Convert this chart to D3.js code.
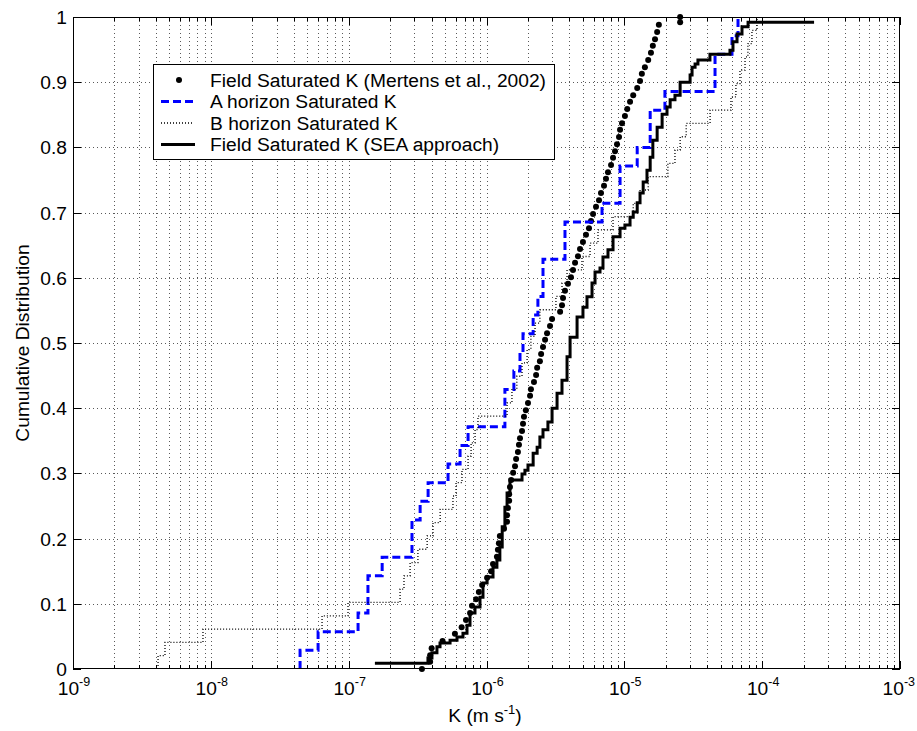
<!DOCTYPE html>
<html><head><meta charset="utf-8">
<script src="https://cdn.jsdelivr.net/npm/d3@7"></script>
<style>
body{margin:0;background:#fff}
svg{display:block}
text{font-family:"Liberation Sans",Arial,Helvetica,sans-serif;fill:#000}
</style>
</head><body>
<svg id="chart" width="917" height="731"></svg>
<script>
// ---------------- data ----------------
const mertensK = [3.4e-7, 3.9e-7, 3.9e-7, 4.0e-7, 4.8e-7, 5.9e-7, 6.6e-7, 7.1e-7, 7.6e-7, 7.85e-7,
 8.4e-7, 8.8e-7, 9.3e-7, 1.01e-6, 1.08e-6, 1.115e-6, 1.19e-6, 1.21e-6, 1.23e-6, 1.25e-6,
 1.34e-6, 1.41e-6, 1.41e-6, 1.43e-6, 1.46e-6, 1.46e-6, 1.48e-6, 1.51e-6, 1.56e-6, 1.61e-6,
 1.64e-6, 1.69e-6, 1.72e-6, 1.75e-6, 1.81e-6, 1.84e-6, 1.87e-6, 1.93e-6, 2.00e-6, 2.07e-6,
 2.10e-6, 2.21e-6, 2.29e-6, 2.33e-6, 2.44e-6, 2.49e-6, 2.57e-6, 2.66e-6, 2.75e-6, 2.89e-6,
 2.99e-6, 3.42e-6, 3.53e-6, 3.59e-6, 3.71e-6, 3.90e-6, 4.10e-6, 4.24e-6, 4.39e-6, 4.61e-6,
 4.77e-6, 5.01e-6, 5.27e-6, 5.54e-6, 5.73e-6, 5.93e-6, 6.23e-6, 6.55e-6, 6.77e-6, 7.12e-6,
 7.36e-6, 7.61e-6, 8.01e-6, 8.28e-6, 8.56e-6, 8.85e-6, 9.15e-6, 9.31e-6, 9.62e-6, 1.01e-5,
 1.05e-5, 1.10e-5, 1.16e-5, 1.24e-5, 1.30e-5, 1.34e-5, 1.41e-5, 1.49e-5, 1.56e-5, 1.61e-5,
 1.67e-5, 1.73e-5, 1.78e-5, 2.54e-5, 2.54e-5];
const mertensF = [0.000, 0.011, 0.021, 0.032, 0.043, 0.054, 0.064, 0.075, 0.086, 0.097,
 0.107, 0.118, 0.129, 0.140, 0.150, 0.161, 0.172, 0.183, 0.193, 0.204,
 0.215, 0.226, 0.236, 0.247, 0.258, 0.268, 0.279, 0.290, 0.301, 0.311,
 0.322, 0.333, 0.344, 0.354, 0.365, 0.376, 0.387, 0.397, 0.408, 0.419,
 0.429, 0.440, 0.451, 0.462, 0.472, 0.483, 0.494, 0.505, 0.515, 0.526,
 0.537, 0.548, 0.558, 0.569, 0.580, 0.591, 0.601, 0.612, 0.623, 0.633,
 0.644, 0.655, 0.666, 0.676, 0.687, 0.698, 0.709, 0.719, 0.730, 0.741,
 0.752, 0.762, 0.773, 0.784, 0.794, 0.805, 0.816, 0.827, 0.837, 0.848,
 0.859, 0.870, 0.880, 0.891, 0.902, 0.913, 0.923, 0.934, 0.945, 0.956,
 0.966, 0.977, 0.988, 0.992, 1.000];

// A horizon sorted sample values (35 samples)
const aHorizonK = [4.44e-8, 6.0e-8, 1.17e-7, 1.38e-7, 1.38e-7, 1.75e-7, 2.88e-7, 2.88e-7, 3.30e-7, 3.77e-7,
 5.26e-7, 6.43e-7, 7.35e-7, 1.36e-6, 1.36e-6, 1.58e-6, 1.75e-6, 1.84e-6, 2.18e-6, 2.36e-6,
 2.57e-6, 2.57e-6, 3.71e-6, 3.71e-6, 6.89e-6, 9.31e-6, 9.31e-6, 1.24e-5, 1.54e-5, 1.54e-5,
 1.97e-5, 4.55e-5, 4.55e-5, 6.04e-5, 6.68e-5];

// B horizon sorted sample values (49 samples)
const bHorizonK = [4.14e-9, 4.65e-9, 8.77e-9, 6.41e-8, 9.89e-8, 2.36e-7, 2.52e-7, 2.79e-7, 3.18e-7, 3.71e-7,
 4.09e-7, 4.61e-7, 5.71e-7, 6.01e-7, 6.64e-7, 7.35e-7, 7.73e-7, 8.26e-7, 8.67e-7, 1.41e-6,
 1.53e-6, 1.66e-6, 1.81e-6, 1.97e-6, 2.10e-6, 2.25e-6, 2.44e-6, 3.19e-6, 3.53e-6, 3.84e-6,
 4.93e-6, 5.64e-6, 6.44e-6, 8.28e-6, 1.16e-5, 1.30e-5, 1.49e-5, 2.07e-5, 2.33e-5, 2.54e-5,
 2.81e-5, 4.19e-5, 5.94e-5, 6.45e-5, 6.90e-5, 7.51e-5, 7.88e-5, 8.43e-5, 9.18e-5];

// SEA approach staircase vertices (step after)
const seaK = [1.55e-7, 3.76e-7, 4.02e-7, 4.37e-7, 4.60e-7, 5.44e-7, 6.11e-7, 6.75e-7, 7.22e-7, 7.59e-7,
 8.25e-7, 8.97e-7, 9.43e-7, 1.01e-6, 1.115e-6, 1.19e-6, 1.25e-6, 1.30e-6, 1.36e-6, 1.41e-6,
 1.48e-6, 1.81e-6, 1.90e-6, 2.00e-6, 2.18e-6, 2.33e-6, 2.44e-6, 2.57e-6, 2.79e-6, 2.99e-6,
 3.25e-6, 3.53e-6, 3.84e-6, 4.04e-6, 4.54e-6, 5.01e-6, 5.36e-6, 5.83e-6, 6.13e-6, 6.66e-6,
 7.00e-6, 7.61e-6, 8.28e-6, 9.31e-6, 1.01e-5, 1.10e-5, 1.16e-5, 1.24e-5, 1.30e-5, 1.37e-5,
 1.46e-5, 1.54e-5, 1.61e-5, 1.73e-5, 1.88e-5, 2.04e-5, 2.15e-5, 2.33e-5, 2.54e-5, 3.00e-5,
 3.10e-5, 3.26e-5, 3.42e-5, 4.18e-5, 5.84e-5, 6.14e-5, 6.57e-5, 7.14e-5, 7.90e-5, 2.38e-4];
const seaF = [0.009, 0.017, 0.025, 0.034, 0.040, 0.044, 0.049, 0.055, 0.067, 0.086,
 0.095, 0.110, 0.132, 0.141, 0.156, 0.167, 0.187, 0.218, 0.248, 0.270,
 0.290, 0.299, 0.305, 0.313, 0.331, 0.340, 0.356, 0.367, 0.379, 0.400,
 0.423, 0.443, 0.479, 0.509, 0.540, 0.555, 0.571, 0.592, 0.609, 0.615,
 0.632, 0.643, 0.663, 0.676, 0.681, 0.693, 0.701, 0.715, 0.730, 0.747,
 0.765, 0.785, 0.811, 0.831, 0.851, 0.862, 0.873, 0.880, 0.900, 0.911,
 0.923, 0.928, 0.934, 0.943, 0.949, 0.962, 0.974, 0.985, 0.992, 0.992];

const xTickExponents = [-9, -8, -7, -6, -5, -4, -3];
const yTicks = [0, 0.1, 0.2, 0.3, 0.4, 0.5, 0.6, 0.7, 0.8, 0.9, 1];
const yTickLabels = ["0", "0.1", "0.2", "0.3", "0.4", "0.5", "0.6", "0.7", "0.8", "0.9", "1"];
const legendLabels = ["Field Saturated K (Mertens et al., 2002)", "A horizon Saturated K",
                      "B horizon Saturated K", "Field Saturated K (SEA approach)"];
const xLabel = ["K (m s", "-1", ")"];
const yLabel = "Cumulative Distribution";

// ---------------- layout ----------------
const W = 917;
const L = 73, R = 900, T = 17, B = 669;
const FS = 19.2;

const svg = d3.select("#chart");
const x = d3.scaleLog().domain([1e-9, 1e-3]).range([L, R]);
const y = d3.scaleLinear().domain([0, 1]).range([B, T]);

const allXTicks = x.ticks();           // 1..9 x 10^k
const isMajor = v => Math.abs(Math.log10(v) - Math.round(Math.log10(v))) < 1e-9;

// grid
const grid = svg.append("g").attr("stroke", "#222").attr("stroke-width", 1)
  .attr("stroke-dasharray", "1,3").attr("fill", "none").attr("opacity", 0.75);
grid.selectAll("line.vx").data(allXTicks.filter(v => v > 1e-9 && v < 1e-3)).join("line")
  .attr("x1", d => Math.round(x(d)) + 0.5).attr("x2", d => Math.round(x(d)) + 0.5)
  .attr("y1", T).attr("y2", B);
grid.selectAll("line.hy").data(yTicks.filter(v => v > 0 && v < 1)).join("line")
  .attr("y1", d => Math.round(y(d)) + 0.5).attr("y2", d => Math.round(y(d)) + 0.5)
  .attr("x1", L).attr("x2", R);

// ---------------- series ----------------
const plot = svg.append("g");

plot.append("g").selectAll("circle").data(mertensK.map((k, i) => [k, mertensF[i]])).join("circle")
  .attr("cx", d => x(d[0])).attr("cy", d => y(d[1])).attr("r", 3).attr("fill", "#000");

function ecdfPoints(vals) {
  const n = vals.length;
  const pts = [[vals[0], 0]];
  vals.forEach((v, i) => pts.push([v, (i + 1) / n]));
  return pts;
}
const stepLine = d3.line().x(d => x(d[0])).y(d => y(d[1])).curve(d3.curveStepAfter);

plot.append("path").attr("d", stepLine(ecdfPoints(aHorizonK)))
  .attr("fill", "none").attr("stroke", "#0000ff").attr("stroke-width", 3)
  .attr("stroke-dasharray", "8,4");

plot.append("path").attr("d", stepLine(ecdfPoints(bHorizonK)))
  .attr("fill", "none").attr("stroke", "#000").attr("stroke-width", 1.3)
  .attr("stroke-dasharray", "1,2");

plot.append("path").attr("d", stepLine(seaK.map((k, i) => [k, seaF[i]])))
  .attr("fill", "none").attr("stroke", "#000").attr("stroke-width", 3)
  .attr("stroke-linejoin", "miter");

// ---------------- axes ----------------
const ax = svg.append("g").attr("stroke", "#000").attr("stroke-width", 1);
ax.append("rect").attr("x", L + 0.5).attr("y", T + 0.5).attr("width", R - L - 1).attr("height", B - T - 1)
  .attr("fill", "none");
allXTicks.forEach(v => {
  const px = Math.round(x(v)) + 0.5;
  const len = isMajor(v) ? 8 : 4;
  ax.append("line").attr("x1", px).attr("x2", px).attr("y1", B).attr("y2", B - len);
  ax.append("line").attr("x1", px).attr("x2", px).attr("y1", T).attr("y2", T + len);
});
yTicks.forEach(v => {
  const py = Math.round(y(v)) + 0.5;
  ax.append("line").attr("x1", L).attr("x2", L + 8).attr("y1", py).attr("y2", py);
  ax.append("line").attr("x1", R).attr("x2", R - 8).attr("y1", py).attr("y2", py);
});

svg.append("g").selectAll("text").data(yTicks).join("text")
  .attr("x", L - 6).attr("y", d => y(d)).attr("dy", "0.36em")
  .attr("text-anchor", "end").attr("font-size", FS)
  .text((d, i) => yTickLabels[i]);

// x tick labels with superscripts (last one kept inside the page)
const xl = svg.append("g").selectAll("text").data(xTickExponents).join("text")
  .attr("x", (d, i) => i === xTickExponents.length - 1 ? W - 2 : x(Math.pow(10, d)) + 1)
  .attr("y", 695)
  .attr("text-anchor", (d, i) => i === xTickExponents.length - 1 ? "end" : "middle")
  .attr("font-size", FS);
xl.append("tspan").text("10");
xl.append("tspan").attr("dy", -9).attr("font-size", 12.5).text(d => String(d));

const xt = svg.append("text").attr("x", 485).attr("y", 722)
  .attr("text-anchor", "middle").attr("font-size", FS);
xt.append("tspan").text(xLabel[0]);
xt.append("tspan").attr("dy", -8).attr("font-size", 13).text(xLabel[1]);
xt.append("tspan").attr("dy", 8).text(xLabel[2]);

svg.append("text").attr("transform", `translate(29,${(T + B) / 2}) rotate(-90)`)
  .attr("text-anchor", "middle").attr("font-size", FS).text(yLabel);

// ---------------- legend ----------------
const lg = svg.append("g");
lg.append("rect").attr("x", 153.5).attr("y", 64.5).attr("width", 401).attr("height", 95)
  .attr("fill", "#fff").attr("stroke", "#000").attr("stroke-width", 1);
const rowY = [80, 101.5, 123, 144.5];
lg.selectAll("text").data(legendLabels).join("text")
  .attr("x", 210).attr("y", (d, i) => rowY[i]).attr("dy", "0.35em")
  .attr("font-size", FS).text(d => d);
lg.append("circle").attr("cx", 179).attr("cy", rowY[0]).attr("r", 3).attr("fill", "#000");
lg.append("line").attr("x1", 161).attr("x2", 196).attr("y1", rowY[1]).attr("y2", rowY[1])
  .attr("stroke", "#0000ff").attr("stroke-width", 3).attr("stroke-dasharray", "8,4");
lg.append("line").attr("x1", 161).attr("x2", 194).attr("y1", rowY[2]).attr("y2", rowY[2])
  .attr("stroke", "#000").attr("stroke-width", 1.3).attr("stroke-dasharray", "1,2");
lg.append("line").attr("x1", 161).attr("x2", 195).attr("y1", rowY[3]).attr("y2", rowY[3])
  .attr("stroke", "#000").attr("stroke-width", 3);
</script>
</body></html>
